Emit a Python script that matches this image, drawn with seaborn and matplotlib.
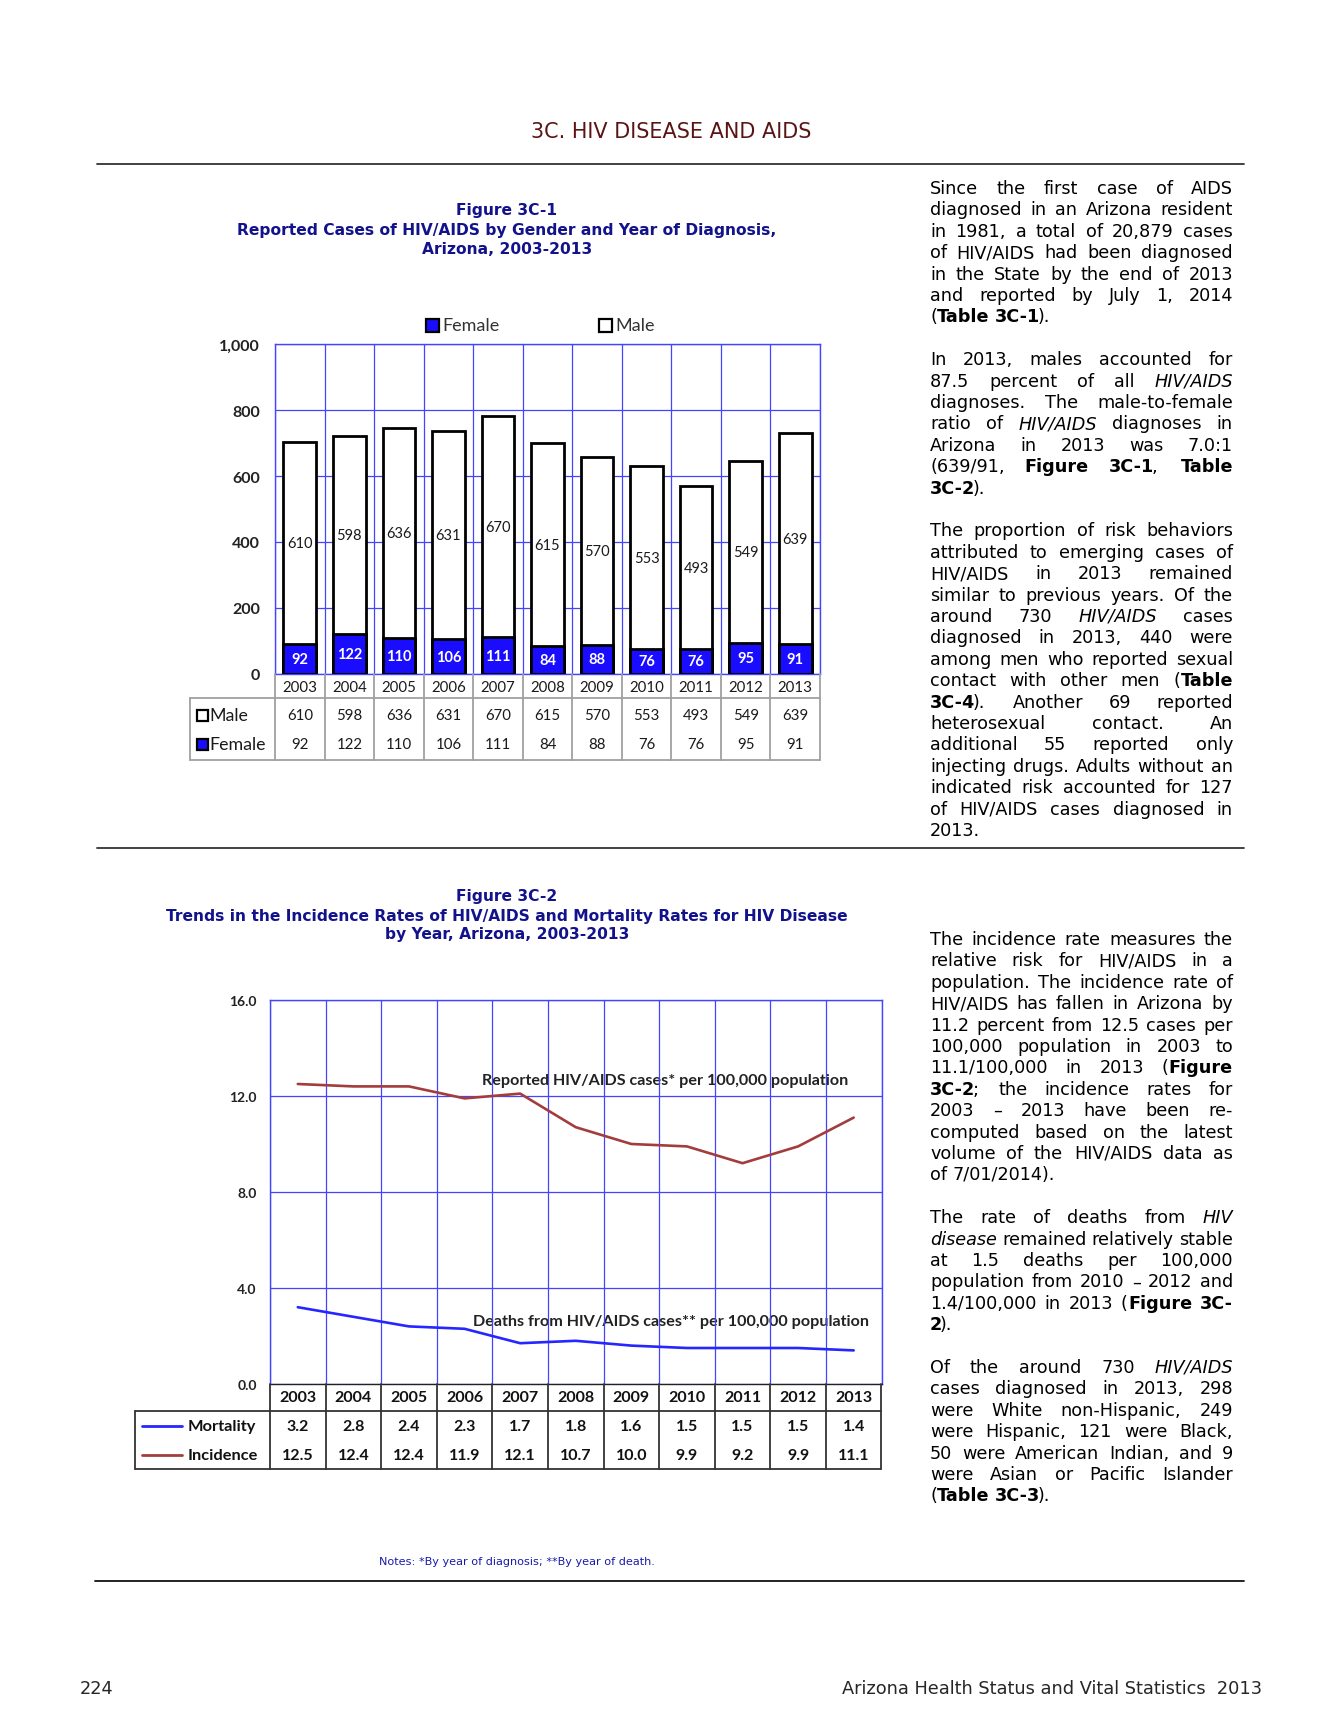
import numpy as np
import pandas as pd
import matplotlib
matplotlib.use("Agg")
import matplotlib.pyplot as plt
from matplotlib.lines import Line2D
from matplotlib.patches import Rectangle
import seaborn as sns

W, H = 1338, 1731

# chart data
years = ["2003", "2004", "2005", "2006", "2007", "2008", "2009", "2010", "2011", "2012", "2013"]
male = [610, 598, 636, 631, 670, 615, 570, 553, 493, 549, 639]
female = [92, 122, 110, 106, 111, 84, 88, 76, 76, 95, 91]
mortality = [3.2, 2.8, 2.4, 2.3, 1.7, 1.8, 1.6, 1.5, 1.5, 1.5, 1.4]
incidence = [12.5, 12.4, 12.4, 11.9, 12.1, 10.7, 10.0, 9.9, 9.2, 9.9, 11.1]

bar_ticks = [0, 200, 400, 600, 800, 1000]
bar_tick_labels = ["0", "200", "400", "600", "800", "1,000"]
rate_ticks = [0, 4, 8, 12, 16]

# page text (* toggles bold, _ toggles italic)
block1 = [
    ["Since the first case of AIDS",
     "diagnosed in an Arizona resident",
     "in 1981, a total of 20,879 cases",
     "of HIV/AIDS had been diagnosed",
     "in the State by the end of 2013",
     "and reported by July 1, 2014",
     "(*Table 3C-1*)."],
    ["In 2013, males accounted for",
     "87.5 percent of all _HIV/AIDS_",
     "diagnoses. The male-to-female",
     "ratio of _HIV/AIDS_ diagnoses in",
     "Arizona in 2013 was 7.0:1",
     "(639/91, *Figure 3C-1*, *Table*",
     "*3C-2*)."],
    ["The proportion of risk behaviors",
     "attributed to emerging cases of",
     "HIV/AIDS in 2013 remained",
     "similar to previous years. Of the",
     "around 730 _HIV/AIDS_ cases",
     "diagnosed in 2013, 440 were",
     "among men who reported sexual",
     "contact with other men (*Table*",
     "*3C-4*). Another 69 reported",
     "heterosexual contact. An",
     "additional 55 reported only",
     "injecting drugs. Adults without an",
     "indicated risk accounted for 127",
     "of HIV/AIDS cases diagnosed in",
     "2013."],
]
block2 = [
    ["The incidence rate measures the",
     "relative risk for HIV/AIDS in a",
     "population. The incidence rate of",
     "HIV/AIDS has fallen in Arizona by",
     "11.2 percent from 12.5 cases per",
     "100,000 population in 2003 to",
     "11.1/100,000 in 2013 (*Figure*",
     "*3C-2*; the incidence rates for",
     "2003 \u2013 2013 have been re-",
     "computed based on the latest",
     "volume of the HIV/AIDS data as",
     "of 7/01/2014)."],
    ["The rate of deaths from _HIV_",
     "_disease_ remained relatively stable",
     "at 1.5 deaths per 100,000",
     "population from 2010 \u2013 2012 and",
     "1.4/100,000 in 2013 (*Figure 3C-*",
     "*2*)."],
    ["Of the around 730 _HIV/AIDS_",
     "cases diagnosed in 2013, 298",
     "were White non-Hispanic, 249",
     "were Hispanic, 121 were Black,",
     "50 were American Indian, and 9",
     "were Asian or Pacific Islander",
     "(*Table 3C-3*)."],
]

sns.set_style("white")
CHART_FONT = ["Lato", "DejaVu Sans"]
BODY_FONT = ["DejaVu Sans"]
plt.rcParams["font.family"] = CHART_FONT

FEMALE = "#1a0dff"
GRID = "#4444ff"
INC = "#a33d3d"
MORT = "#2626ff"
NAVY = "#12128c"

fig = plt.figure(figsize=(W / 100, H / 100), dpi=100)
renderer = fig.canvas.get_renderer()


def fx(x):
    return x / W


def fy(y):
    return 1 - y / H


def px_axes(x0, y0, x1, y1):
    return fig.add_axes([fx(x0), fy(y1), (x1 - x0) / W, (y1 - y0) / H])


def hrule(y, x0, x1, color="#333333", lw=1.3):
    fig.add_artist(Line2D([fx(x0), fx(x1)], [fy(y), fy(y)], transform=fig.transFigure,
                          color=color, lw=lw))


def text_width(t):
    return t.get_window_extent(renderer).width


def fit_size(s, target, **kw):
    t = fig.text(0, 0, s, fontsize=10, **kw)
    w = text_width(t)
    t.remove()
    return 10 * target / w


# page furniture
fig.text(fx(671), fy(132), "3C. HIV DISEASE AND AIDS", family=BODY_FONT,
         fontsize=fit_size("3C. HIV DISEASE AND AIDS", 280, family=BODY_FONT),
         color="#5a1414", ha="center", va="center")
hrule(165, 97, 1244)
hrule(849, 97, 1244)
hrule(1582, 95, 1244, color="#111111")

title1 = ["Figure 3C-1",
          "Reported Cases of HIV/AIDS by Gender and Year of Diagnosis,",
          "Arizona, 2003-2013"]
title2 = ["Figure 3C-2",
          "Trends in the Incidence Rates of HIV/AIDS and Mortality Rates for HIV Disease",
          "by Year, Arizona, 2003-2013"]
tsize = fit_size(title1[1], 540, family=BODY_FONT, fontweight="bold")
for lines, y0 in [(title1, 211), (title2, 897)]:
    for i, t in enumerate(lines):
        fig.text(fx(507), fy(y0 + 19 * i), t, family=BODY_FONT, fontsize=tsize, fontweight="bold",
                 color=NAVY, ha="center", va="center")

note = "Notes: *By year of diagnosis; **By year of death."
fig.text(fx(517), fy(1562), note, family=BODY_FONT, fontsize=fit_size(note, 275, family=BODY_FONT),
         color="#1a1aaa", ha="center", va="center")
foot = "Arizona Health Status and Vital Statistics  2013"
fsize = fit_size(foot, 419, family=BODY_FONT)
fig.text(fx(80), fy(1689), "224", family=BODY_FONT, fontsize=fsize, ha="left", va="center")
fig.text(fx(1262), fy(1689), foot, family=BODY_FONT, fontsize=fsize, ha="right", va="center")

# ---------------- Figure 3C-1: stacked bars ----------------
df1 = pd.DataFrame({"year": years, "male": male, "female": female})
df1["total"] = df1["male"] + df1["female"]

ax1 = px_axes(275, 345, 820, 675)
sns.barplot(data=df1, x="year", y="total", color="white", saturation=1, edgecolor="black",
            linewidth=2.0, width=0.66, ax=ax1, zorder=3)
sns.barplot(data=df1, x="year", y="female", color=FEMALE, saturation=1, edgecolor="black",
            linewidth=2.0, width=0.66, ax=ax1, zorder=3)
ax1.set_ylim(0, 1000)
ax1.set_xlim(-0.5, len(years) - 0.5)
ax1.set_yticks(bar_ticks)
ax1.set_yticklabels(bar_tick_labels, fontweight="bold", fontsize=11.5, color="#222222")
ax1.set_xticks([])
ax1.set_xticks(np.arange(-0.5, len(years), 1), minor=True)
ax1.grid(axis="y", which="major", color=GRID, lw=0.9)
ax1.grid(axis="x", which="minor", color=GRID, lw=0.9)
ax1.set_axisbelow(True)
ax1.tick_params(axis="both", which="both", length=0, pad=10.8)
ax1.set_xlabel("")
ax1.set_ylabel("")
for s in ax1.spines.values():
    s.set_color(GRID)
    s.set_linewidth(1.0)
for i in range(len(years)):
    ax1.text(i, female[i] / 2, str(female[i]), ha="center", va="center", color="white",
             fontweight="bold", fontsize=10.5, zorder=5)
    ax1.text(i, female[i] + male[i] / 2, str(male[i]), ha="center", va="center", color="#1a1a1a",
             fontsize=10.5, zorder=5)

# legend above the bars
for (x0, label, fc) in [(426, "Female", FEMALE), (599, "Male", "white")]:
    fig.add_artist(Rectangle((fx(x0), fy(333)), 13 / W, 13 / H, transform=fig.transFigure,
                             facecolor=fc, edgecolor="black", lw=1.6))
    fig.text(fx(x0 + 16), fy(326), label, fontsize=13, color="#333333", ha="left", va="center")

# data table below the bars
lab1 = 1.723
tax1 = px_axes(190, 675, 820, 761)
tax1.set_xlim(-0.5 - lab1, len(years) - 0.5)
tax1.set_ylim(86, 0)
tax1.axis("off")
TB = "#a0a0a0"
for b in np.arange(-0.5, len(years), 1):
    tax1.plot([b, b], [0, 86], color=TB, lw=1.3, clip_on=False)
tax1.plot([-0.5 - lab1, len(years) - 0.5], [24, 24], color=TB, lw=1.3, clip_on=False)
tax1.plot([-0.5 - lab1, len(years) - 0.5], [86, 86], color=TB, lw=1.3, clip_on=False)
tax1.plot([-0.5 - lab1, -0.5 - lab1], [24, 86], color=TB, lw=1.3, clip_on=False)
for i, yr in enumerate(years):
    tax1.text(i, 12.5, yr, ha="center", va="center", fontsize=10.8, color="#1a1a1a")
    tax1.text(i, 41, str(male[i]), ha="center", va="center", fontsize=10.8, color="#1a1a1a")
    tax1.text(i, 70.5, str(female[i]), ha="center", va="center", fontsize=10.8, color="#1a1a1a")
for (yc, label, fc) in [(41, "Male", "white"), (70.5, "Female", FEMALE)]:
    fig.add_artist(Rectangle((fx(197), fy(675 + yc + 5.5)), 11 / W, 11 / H, transform=fig.transFigure,
                             facecolor=fc, edgecolor="black", lw=1.6))
    fig.text(fx(209), fy(675 + yc), label, fontsize=12.8, color="#1a1a1a", ha="left", va="center")

# ---------------- Figure 3C-2: rate lines ----------------
df2 = pd.DataFrame({"pos": np.arange(len(years)), "Mortality": mortality, "Incidence": incidence})
ax2 = px_axes(270, 1001, 881.5, 1385)
sns.lineplot(data=df2, x="pos", y="Incidence", color=INC, lw=1.9, ax=ax2, zorder=3)
sns.lineplot(data=df2, x="pos", y="Mortality", color=MORT, lw=1.9, ax=ax2, zorder=3)
ax2.set_xlim(-0.5, len(years) - 0.5)
ax2.set_ylim(0, 16)
ax2.set_yticks(rate_ticks)
ax2.set_yticklabels([f"{v:.1f}" for v in rate_ticks], fontweight="bold", fontsize=10, color="#222222")
ax2.set_xticks([])
ax2.set_xticks(np.arange(-0.5, len(years), 1), minor=True)
ax2.set_axisbelow(False)
ax2.grid(axis="y", which="major", color=GRID, lw=0.9, zorder=2)
ax2.grid(axis="x", which="minor", color=GRID, lw=0.9, zorder=2)
ax2.tick_params(axis="both", which="both", length=0, pad=9.6)
ax2.set_xlabel("")
ax2.set_ylabel("")
for s in ax2.spines.values():
    s.set_color(GRID)
    s.set_linewidth(1.0)
ax2.spines["bottom"].set_color("#222222")
lab_inc = "Reported HIV/AIDS cases* per 100,000 population"
lab_mort = "Deaths from HIV/AIDS cases** per 100,000 population"
ax2.text(3.32, 12.68, lab_inc, fontweight="bold", fontsize=fit_size(lab_inc, 367, fontweight="bold"),
         ha="left", va="center", color="#222222", zorder=1)
ax2.text(3.16, 2.63, lab_mort, fontweight="bold", fontsize=fit_size(lab_mort, 398, fontweight="bold"),
         ha="left", va="center", color="#222222", zorder=1)

lab2 = 2.428
tax2 = px_axes(135, 1385, 881.5, 1470)
tax2.set_xlim(-0.5 - lab2, len(years) - 0.5)
tax2.set_ylim(85, 0)
tax2.axis("off")
TL = "#333333"
for b in np.arange(-0.5, len(years), 1):
    tax2.plot([b, b], [0, 85], color=TL, lw=1.3, clip_on=False)
tax2.plot([-0.5 - lab2, len(years) - 0.5], [26.5, 26.5], color=TL, lw=1.3, clip_on=False)
tax2.plot([-0.5 - lab2, len(years) - 0.5], [85, 85], color=TL, lw=1.3, clip_on=False)
tax2.plot([-0.5 - lab2, -0.5 - lab2], [26.5, 85], color=TL, lw=1.3, clip_on=False)
for i, yr in enumerate(years):
    tax2.text(i, 13.5, yr, ha="center", va="center", fontsize=11.5, fontweight="bold", color="#111111")
    tax2.text(i, 42, f"{mortality[i]:.1f}", ha="center", va="center", fontsize=11.5,
              fontweight="bold", color="#111111")
    tax2.text(i, 70.5, f"{incidence[i]:.1f}", ha="center", va="center", fontsize=11.5,
              fontweight="bold", color="#111111")
for (yc, label, col) in [(42, "Mortality", MORT), (70.5, "Incidence", INC)]:
    fig.add_artist(Line2D([fx(141.6), fx(182.5)], [fy(1385 + yc), fy(1385 + yc)],
                          transform=fig.transFigure, color=col, lw=2.0))
    fig.text(fx(188), fy(1385 + yc), label, fontsize=11.8, fontweight="bold", color="#111111",
             ha="left", va="center")


# ---------------- justified body text ----------------
def parse(line):
    words = []
    bold = ital = False
    for tok in line.split(" "):
        segs = []
        cur = ""
        for ch in tok:
            if ch in "*_":
                if cur:
                    segs.append((cur, bold, ital))
                    cur = ""
                if ch == "*":
                    bold = not bold
                else:
                    ital = not ital
            else:
                cur += ch
        if cur:
            segs.append((cur, bold, ital))
        words.append(segs)
    return words


_adv = {}


def advance(s, b, it, size):
    key = (s, b, it, size)
    if key not in _adv:
        kw = dict(family=BODY_FONT, fontsize=size, fontweight="bold" if b else "normal",
                  fontstyle="italic" if it else "normal")
        t1 = fig.text(0, 0, "|" + s + "|", **kw)
        t2 = fig.text(0, 0, "||", **kw)
        _adv[key] = text_width(t1) - text_width(t2)
        t1.remove()
        t2.remove()
    return _adv[key]


def natural(line, size):
    words = parse(line)
    sp = advance(" ", False, False, size)
    return sum(advance(s, b, it, size) for w in words for (s, b, it) in w) + sp * (len(words) - 1)


X0, X1 = 930, 1233
all_lines = [ln for blk in (block1, block2) for p in blk for ln in p]
widest = max(natural(ln, 10) for ln in all_lines)
BODY_SIZE = min(13.6, 10 * (X1 - X0) / widest)


def draw_block(paras, x0, x1, y_first, step):
    sp = advance(" ", False, False, BODY_SIZE)
    n = 0
    for para in paras:
        for k, line in enumerate(para):
            y = y_first + n * step
            words = parse(line)
            wsum = [sum(advance(s, b, it, BODY_SIZE) for (s, b, it) in w) for w in words]
            if k == len(para) - 1 or len(words) == 1:
                gap = sp
            else:
                gap = (x1 - x0 - sum(wsum)) / (len(words) - 1)
            x = x0
            for w, ww in zip(words, wsum):
                xs = x
                for j, (s, b, it) in enumerate(w):
                    fig.text(fx(xs), fy(y), s, family=BODY_FONT, fontsize=BODY_SIZE,
                             fontweight="bold" if b else "normal",
                             fontstyle="italic" if it else "normal",
                             color="black", ha="left", va="baseline")
                    xs += advance(s, b, it, BODY_SIZE)
                    # tighten the join after a bold run
                    if b and j + 1 < len(w) and not w[j + 1][1]:
                        xs -= 2.5
                x += ww + gap
            n += 1
        n += 1


draw_block(block1, X0, X1, 194, 21.4)
draw_block(block2, X0, X1, 945, 21.4)

fig.savefig("out.png", dpi=100)
